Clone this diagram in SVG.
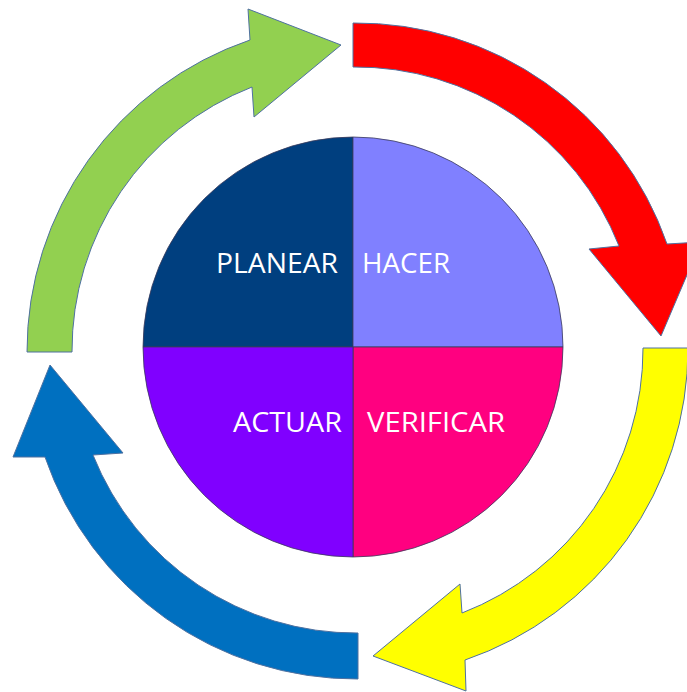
<svg xmlns="http://www.w3.org/2000/svg" width="687" height="692" viewBox="0 0 687 692">
  <style>
    .arrow { stroke: #4f71a0; stroke-width: 1; stroke-linejoin: miter; }
    .quad { stroke: #3a3a5a; stroke-width: 0.8; }
    .lbl { font-family: "Open Sans", "Liberation Sans", sans-serif; font-size: 28px; fill: #ffffff; }
  </style>
  <rect width="687" height="692" fill="#ffffff"/>
  <g id="connectors">
    <path id="arrow-green" class="arrow" fill="#92D050" d="M 72,352 L 27,352 A 329 329 0 0 1 250,40 L 248,9 L 341,45 L 254,117 L 252,87 A 283 283 0 0 0 72,352 Z"/>
    <path id="arrow-red" class="arrow" fill="#FF0000" d="M 353,23 A 329 329 0 0 1 667,244 L 701,242 L 661,336 L 589,249 L 619,246 A 283 283 0 0 0 353,67 Z"/>
    <path id="arrow-yellow" class="arrow" fill="#FFFF00" d="M 688,348 A 329 329 0 0 1 465,660 L 466,691 L 373,656 L 460,584 L 462,613 A 283 283 0 0 0 643,348 Z"/>
    <path id="arrow-blue" class="arrow" fill="#0070C0" d="M 358,679 A 329 329 0 0 1 45,457 L 13,457 L 50,365 L 123,453 L 93,455 A 283 283 0 0 0 358,633 Z"/>
  </g>
  <g id="planear">
    <path class="quad" fill="#003F7F" d="M 353,347 L 143,347 A 210 210 0 0 1 353,137 Z"/>
    <text class="lbl" x="216" y="273" textLength="122" lengthAdjust="spacingAndGlyphs">PLANEAR</text>
  </g>
  <g id="hacer">
    <path class="quad" fill="#8080FF" d="M 353,347 L 353,137 A 210 210 0 0 1 563,347 Z"/>
    <text class="lbl" x="362" y="273" textLength="88" lengthAdjust="spacingAndGlyphs">HACER</text>
  </g>
  <g id="verificar">
    <path class="quad" fill="#FF0080" d="M 353,347 L 563,347 A 210 210 0 0 1 353,557 Z"/>
    <text class="lbl" x="367" y="432" textLength="138" lengthAdjust="spacingAndGlyphs">VERIFICAR</text>
  </g>
  <g id="actuar">
    <path class="quad" fill="#8000FF" d="M 353,347 L 353,557 A 210 210 0 0 1 143,347 Z"/>
    <text class="lbl" x="233" y="432" textLength="109" lengthAdjust="spacingAndGlyphs">ACTUAR</text>
  </g>
</svg>
